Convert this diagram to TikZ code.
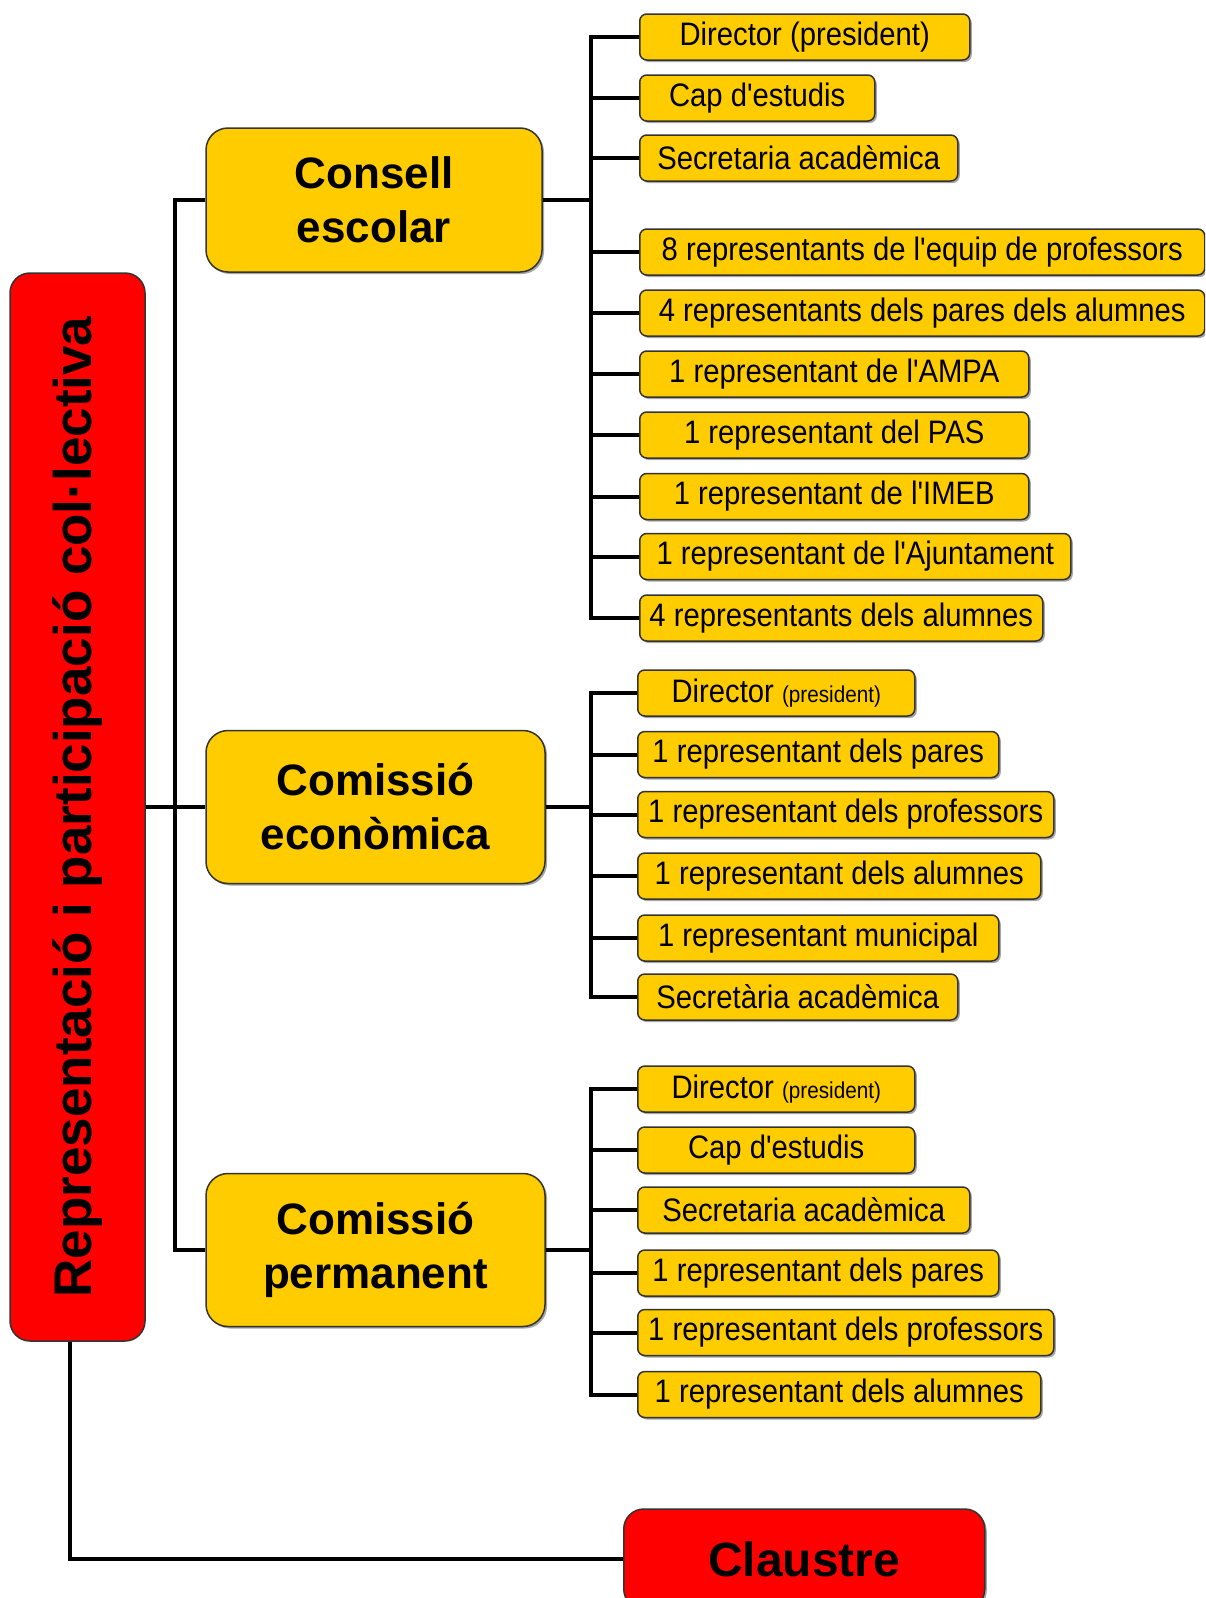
\documentclass[tikz,border=0pt]{standalone}
\usepackage{fontspec}
\setmainfont{Liberation Sans}[Ligatures=TeXOff]
\newfontfamily\narrowfam{Liberation Sans}[Ligatures=TeXOff, FakeStretch=0.9]
\usetikzlibrary{shadows}
\definecolor{gold}{HTML}{FFCC00}
\newcommand{\itemfont}{\narrowfam\fontsize{32.5}{38}\selectfont}
\newcommand{\groupfont}{\fontsize{44}{54}\selectfont\bfseries}
\newcommand{\repfont}{\fontsize{53}{60}\selectfont\bfseries}
\newcommand{\pres}{{\fontsize{23}{26}\selectfont(president)}}
\tikzstyle{shade} = [drop shadow={shadow xshift=2pt, shadow yshift=-2pt, fill=black, opacity=.35}]
\tikzstyle{repbox} = [draw=black!80, fill=red, line width=1.5pt, rectangle, rounded corners=20pt, inner sep=0pt, font=\repfont]
\tikzstyle{groupbox} = [shade, draw=black!80, fill=gold, line width=1.5pt, rectangle, rounded corners=22pt, align=center, inner sep=0pt, font=\groupfont]
\tikzstyle{itembox} = [shade, draw=black!80, fill=gold, line width=1.5pt, rectangle, rounded corners=7pt, minimum height=46pt, inner sep=0pt, anchor=west, font=\itemfont]
\tikzstyle{link} = [line width=4pt]

\begin{document}
\begin{tikzpicture}[x=1pt, y=-1pt]
\useasboundingbox (0,0) rectangle (1205,1598);
\clip (0,0) rectangle (1205,1598);

% main blocks
\node [repbox, rotate=90, minimum width=1068pt, minimum height=135pt] (rep) at (77.5,807) {Representació i participació col·lectiva};
\node [groupbox, minimum width=336pt, minimum height=144pt] (ce) at (374,200) {Consell\\escolar};
\node [groupbox, minimum width=339pt, minimum height=153pt] (ec) at (375.5,807) {Comissió\\econòmica};
\node [groupbox, minimum width=339pt, minimum height=153pt] (pe) at (375.5,1250) {Comissió\\permanent};
\node [repbox, shade, anchor=west, minimum width=361pt, minimum height=100pt, font=\fontsize{48}{54}\selectfont\bfseries] (cl) at (623,1559) {Claustre};

% Consell escolar
\node [itembox, minimum width=330pt] (ce1) at (639,37) {Director (president)};
\node [itembox, minimum width=235pt] (ce2) at (639,98) {Cap d'estudis};
\node [itembox, minimum width=318pt] (ce3) at (639,158) {Secretaria acadèmica};
\node [itembox, minimum width=565pt] (ce4) at (639,252) {8 representants de l'equip de professors};
\node [itembox, minimum width=565pt] (ce5) at (639,313) {4 representants dels pares dels alumnes};
\node [itembox, minimum width=389pt] (ce6) at (639,374) {1 representant de l'AMPA};
\node [itembox, minimum width=389pt] (ce7) at (639,435) {1 representant del PAS};
\node [itembox, minimum width=389pt] (ce8) at (639,496.5) {1 representant de l'IMEB};
\node [itembox, minimum width=431pt] (ce9) at (639,556.5) {1 representant de l'Ajuntament};
\node [itembox, minimum width=403pt] (ce10) at (639,618) {4 representants dels alumnes};

% Comissio economica
\node [itembox, minimum width=277pt] (ec1) at (637,693) {Director \pres};
\node [itembox, minimum width=361pt] (ec2) at (637,754.5) {1 representant dels pares};
\node [itembox, minimum width=416pt] (ec3) at (637,814.5) {1 representant dels professors};
\node [itembox, minimum width=403pt] (ec4) at (637,876) {1 representant dels alumnes};
\node [itembox, minimum width=361pt] (ec5) at (637,938) {1 representant municipal};
\node [itembox, minimum width=320pt] (ec6) at (637,997) {Secretària acadèmica};

% Comissio permanent
\node [itembox, minimum width=277pt] (pe1) at (637,1089) {Director \pres};
\node [itembox, minimum width=277pt] (pe2) at (637,1150) {Cap d'estudis};
\node [itembox, minimum width=332pt] (pe3) at (637,1210) {Secretaria acadèmica};
\node [itembox, minimum width=361pt] (pe4) at (637,1273) {1 representant dels pares};
\node [itembox, minimum width=416pt] (pe5) at (637,1332.5) {1 representant dels professors};
\node [itembox, minimum width=403pt] (pe6) at (637,1394.5) {1 representant dels alumnes};

\coordinate (mainT) at (175,807);
\coordinate (ceT) at (591,200);
\coordinate (ecT) at (591,807);
\coordinate (peT) at (591,1250);

% left tree
\draw [link] (rep.south) -- (ec.west);
\draw [link] (ce.west) -| (mainT) |- (pe.west);
\draw [link] ([xshift=-8pt]rep.west) |- (cl.west);

% branches
\draw [link] (ce.east) -- (ceT);
\draw [link] (ce1.west) -| (ceT) |- (ce10.west);
\draw [link] (ceT |- ce2.west) -- (ce2.west);
\draw [link] (ceT |- ce3.west) -- (ce3.west);
\draw [link] (ceT |- ce4.west) -- (ce4.west);
\draw [link] (ceT |- ce5.west) -- (ce5.west);
\draw [link] (ceT |- ce6.west) -- (ce6.west);
\draw [link] (ceT |- ce7.west) -- (ce7.west);
\draw [link] (ceT |- ce8.west) -- (ce8.west);
\draw [link] (ceT |- ce9.west) -- (ce9.west);

\draw [link] (ec.east) -- (ecT);
\draw [link] (ec1.west) -| (ecT) |- (ec6.west);
\draw [link] (ecT |- ec2.west) -- (ec2.west);
\draw [link] (ecT |- ec3.west) -- (ec3.west);
\draw [link] (ecT |- ec4.west) -- (ec4.west);
\draw [link] (ecT |- ec5.west) -- (ec5.west);

\draw [link] (pe.east) -- (peT);
\draw [link] (pe1.west) -| (peT) |- (pe6.west);
\draw [link] (peT |- pe2.west) -- (pe2.west);
\draw [link] (peT |- pe3.west) -- (pe3.west);
\draw [link] (peT |- pe4.west) -- (pe4.west);
\draw [link] (peT |- pe5.west) -- (pe5.west);
\end{tikzpicture}
\end{document}
